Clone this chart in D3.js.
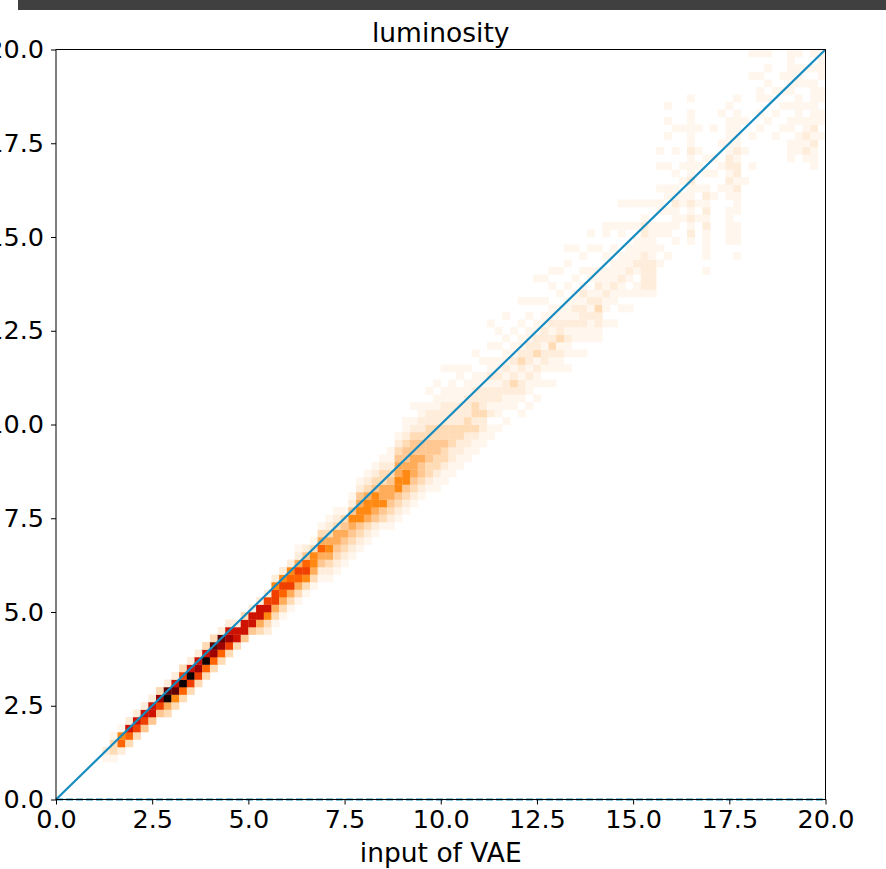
<!DOCTYPE html>
<html>
<head>
<meta charset="utf-8">
<script src="https://cdn.jsdelivr.net/npm/d3@7"></script>
<style>
  body { margin: 0; background: #fff; }
  svg { display: block; }
  text { font-family: "DejaVu Sans", sans-serif; fill: #000; }
</style>
</head>
<body>
<svg id="chart" width="886" height="869"></svg>
<script>
// chart texts and axis setup
const title = 'luminosity';
const xLabel = 'input of VAE';
const axisDomain = [0, 20];
const binCount = 100;
const tickValues = [0, 2.5, 5, 7.5, 10, 12.5, 15, 17.5, 20];

// level characters used in the column strings -> bin counts
const levelCounts = { '0': 0, '1': 1, '2': 2, '3': 4, '4': 6, '5': 9, '6': 13,
  '7': 17, '8': 21, '9': 26, 'a': 33, 'b': 42, 'c': 54 };
const countMax = 56;

// [x bin, first y bin, counts going up] -- narrow dense band (x 1.2 to 8.8)
const coreColumns = [
  [6, 5, '12'], [7, 5, '1331'], [8, 6, '2761'], [9, 7, '3792'],
  [10, 8, '3892'], [11, 9, '4892'], [12, 10, '4992'], [13, 11, '48a3'],
  [14, 11, '35cb2'], [15, 12, '36b92'], [16, 13, '37c83'], [17, 14, '38c92'],
  [18, 15, '38a92'], [19, 16, '37c93'], [20, 17, '37ab3'], [21, 18, '37ab2'],
  [22, 19, '38a92'], [23, 20, '3992'], [24, 21, '4993'], [25, 22, '4992'],
  [26, 22, '35992'], [27, 22, '236982'], [28, 23, '1358862'], [29, 24, '1357862'],
  [30, 25, '1358762'], [31, 26, '13578521'], [32, 27, '1368742'], [33, 28, '1356631'],
  [34, 29, '12457531'], [35, 29, '123565321'], [36, 30, '123455321'], [37, 31, '12345431'],
  [38, 32, '123456421'], [39, 33, '1234665421'], [40, 34, '1235665321'],
  [41, 35, '1245664321'], [42, 36, '1346553321'], [43, 36, '12345543211']
];

// wider, paler band (x 8.8 to 11.2)
const spreadColumns = [
  [44, 37, '123466554321'], [45, 38, '1234665443211'], [46, 39, '12345554432101'],
  [47, 40, '1234454432211'], [48, 41, '12334443322101'], [49, 41, '112334433221101'],
  [50, 42, '1123343322211001'], [51, 43, '112233322211101'], [52, 44, '11223322211011'],
  [53, 45, '1122332221101'], [54, 46, '11232332211001'], [55, 47, '112232221101']
];

// scattered faint cells (x 11.2 to 20)
const sparseColumns = [
  [56, 48, '1102122121101001'], [57, 49, '10112212110101'], [58, 50, '101122121101001'],
  [59, 51, '0112321211010'], [60, 51, '1012212321101001'], [61, 52, '101121222110101'],
  [62, 53, '10112132211001001'], [63, 54, '0101221221101001'], [64, 55, '1011232121100101'],
  [65, 56, '011213221101001'], [66, 57, '10112121110100101'], [67, 58, '0101121211010001'],
  [68, 59, '10112221210101'], [69, 60, '0111212101100101'], [70, 61, '1122321211001'],
  [71, 62, '010112111010011'], [72, 63, '10011211101001'], [73, 64, '0101121110011001'],
  [74, 65, '101012111001001'], [75, 66, '01101211101001'], [76, 67, '1222221122101'],
  [77, 67, '1222211111001'], [78, 70, '01010110110100101'], [79, 72, '100110101100100010101'],
  [80, 74, '1011121101001001'], [81, 75, '0010110101000010'], [82, 74, '12121211211121111101'],
  [83, 76, '0101010010100100'], [84, 70, '1011112121210101'], [85, 78, '001001010001000'],
  [86, 80, '0100100100010'], [87, 74, '1111101121221111101'], [88, 72, '10111011121221211111010'],
  [89, 80, '001000100010'], [90, 84, '1000100000001001'], [91, 88, '010101101001'],
  [92, 90, '1001010101'], [93, 86, '0010010010'], [94, 88, '01001010100'],
  [95, 85, '111011010111111'], [96, 86, '11101111011101'], [97, 85, '1212110100101'],
  [98, 84, '1112121111110101'], [99, 88, '101101101111']
];

// gist_heat reversed
function heatColor(t) {
  const v = 1 - Math.max(0, Math.min(1, t));
  const c = (a) => Math.round(255 * Math.max(0, Math.min(1, a)));
  return `rgb(${c(1.5 * v)},${c(2 * v - 1)},${c(4 * v - 3)})`;
}

const width = 886, height = 869;
const plot = { left: 56, right: 825.5, top: 49.5, bottom: 799.5 };

const x = d3.scaleLinear().domain(axisDomain).range([plot.left, plot.right]);
const y = d3.scaleLinear().domain(axisDomain).range([plot.bottom, plot.top]);
const binSize = (axisDomain[1] - axisDomain[0]) / binCount;

// expand column strings into cells
const cells = [];
[...coreColumns, ...spreadColumns, ...sparseColumns].forEach(([i, j0, s]) => {
  s.split('').forEach((ch, k) => {
    const count = levelCounts[ch];
    if (count > 0) cells.push({ i, j: j0 + k, count });
  });
});

const svg = d3.select('#chart');

// dark strip across the top of the screenshot
svg.append('rect')
  .attr('x', 18).attr('y', 0)
  .attr('width', width - 18).attr('height', 10)
  .attr('fill', '#404040');

svg.append('g')
  .selectAll('rect')
  .data(cells)
  .join('rect')
  .attr('x', (d) => x(d.i * binSize))
  .attr('y', (d) => y((d.j + 1) * binSize))
  .attr('width', (d) => x((d.i + 1) * binSize) - x(d.i * binSize) + 0.3)
  .attr('height', (d) => y(d.j * binSize) - y((d.j + 1) * binSize) + 0.3)
  .attr('fill', (d) => heatColor(d.count / countMax));

// y = x reference line and dashed zero line
svg.append('line')
  .attr('x1', x(0)).attr('y1', y(0))
  .attr('x2', x(20)).attr('y2', y(20))
  .attr('stroke', '#168bc0')
  .attr('stroke-width', 2.2);

svg.append('line')
  .attr('x1', x(0)).attr('y1', y(0))
  .attr('x2', x(20)).attr('y2', y(0))
  .attr('stroke', '#168bc0')
  .attr('stroke-width', 2)
  .attr('stroke-dasharray', '7,3');

// frame
svg.append('rect')
  .attr('x', plot.left).attr('y', plot.top)
  .attr('width', plot.right - plot.left).attr('height', plot.bottom - plot.top)
  .attr('fill', 'none')
  .attr('stroke', '#000')
  .attr('stroke-width', 1);

const fmt = d3.format('.1f');

const xAxis = svg.append('g')
  .attr('transform', `translate(0,${plot.bottom})`)
  .call(d3.axisBottom(x).tickValues(tickValues).tickFormat(fmt).tickSize(5).tickPadding(5));

const yAxis = svg.append('g')
  .attr('transform', `translate(${plot.left},0)`)
  .call(d3.axisLeft(y).tickValues(tickValues).tickFormat(fmt).tickSize(5).tickPadding(7));

[xAxis, yAxis].forEach((g) => {
  g.select('.domain').remove();
  g.selectAll('line').attr('stroke', '#000');
  g.selectAll('text').attr('font-size', 25.5).attr('fill', '#000')
    .attr('font-family', '"DejaVu Sans", sans-serif');
});

svg.append('text')
  .attr('x', (plot.left + plot.right) / 2)
  .attr('y', 42)
  .attr('text-anchor', 'middle')
  .attr('font-size', 26.5)
  .text(title);

svg.append('text')
  .attr('x', (plot.left + plot.right) / 2)
  .attr('y', 862)
  .attr('text-anchor', 'middle')
  .attr('font-size', 26.5)
  .text(xLabel);
</script>
</body>
</html>
